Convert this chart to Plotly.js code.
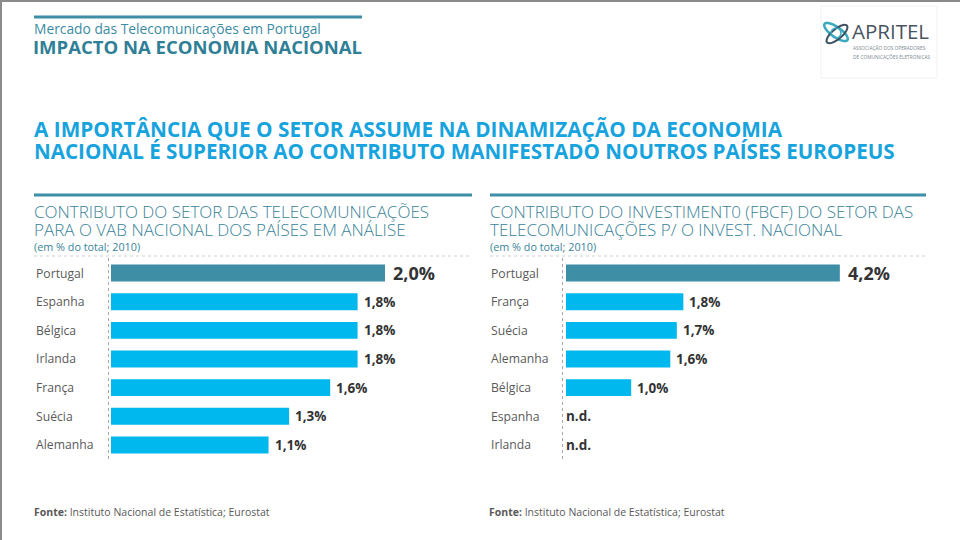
<!DOCTYPE html>
<html>
<head>
<meta charset="utf-8">
<script src="https://cdn.plot.ly/plotly-3.0.1.min.js"></script>
<style>html,body{margin:0;padding:0;background:#fff;}#chart{width:960px;height:540px;}</style>
</head>
<body>
<div id="chart"></div>
<script>
// ---- data ----
const vabCountries = ["Portugal","Espanha","Bélgica","Irlanda","França","Suécia","Alemanha"];
const vabValues    = [2.0, 1.8, 1.8, 1.8, 1.6, 1.3, 1.15];
const vabLabels    = ["2,0%","1,8%","1,8%","1,8%","1,6%","1,3%","1,1%"];

const fbcfCountries = ["Portugal","França","Suécia","Alemanha","Bélgica","Espanha","Irlanda"];
const fbcfValues    = [4.2, 1.8, 1.7, 1.6, 1.0, null, null];
const fbcfLabels    = ["4,2%","1,8%","1,7%","1,6%","1,0%","n.d.","n.d."];

const W = 960, H = 540;
const px = x => x / W;
const py = y => 1 - y / H;

const TEAL = "#3e8ea6", CYAN = "#00b8ee", HEAD = "#3a8399", BLUE = "#17a3dd";
const FONT = "Open Sans, sans-serif";

const yTop = 258.7, yBot = 459.3;

const traces = [
  {type:"bar", orientation:"h", x: vabValues, y: vabCountries, xaxis:"x", yaxis:"y",
   marker:{color: vabCountries.map(c => c === "Portugal" ? TEAL : CYAN)}, hoverinfo:"skip"},
  {type:"bar", orientation:"h", x: fbcfValues, y: fbcfCountries, xaxis:"x2", yaxis:"y2",
   marker:{color: fbcfCountries.map(c => c === "Portugal" ? TEAL : CYAN)}, hoverinfo:"skip"}
];

const annotations = [];
const shapes = [];

function addText(text, x, y, size, color, opts) {
  opts = opts || {};
  annotations.push(Object.assign({
    text: text, xref:"paper", yref:"paper", x: px(x), y: py(y),
    xanchor:"left", yanchor:"middle", showarrow:false, borderpad:0,
    font:{family: FONT, size: size, color: color, weight: opts.weight || 400}
  }, opts.extra || {}));
}

// header
shapes.push({type:"line", xref:"paper", yref:"paper", x0:px(34), x1:px(362), y0:py(17), y1:py(17), line:{color:TEAL, width:3}});
addText("Mercado das Telecomunicações em Portugal", 33, 29, 13.8, "#3b8ba3");
addText("IMPACTO NA ECONOMIA NACIONAL", 32, 46.5, 18.5, "#2f7f96", {weight:700});

// main heading
addText("A IMPORTÂNCIA QUE O SETOR ASSUME NA DINAMIZAÇÃO DA ECONOMIA", 33, 129, 20.8, BLUE, {weight:700});
addText("NACIONAL É SUPERIOR AO CONTRIBUTO MANIFESTADO NOUTROS PAÍSES EUROPEUS", 33, 151, 20.6, BLUE, {weight:700});

// panel headers
function panelHeader(x0, x1, l1, l2) {
  shapes.push({type:"line", xref:"paper", yref:"paper", x0:px(x0), x1:px(x1), y0:py(195), y1:py(195), line:{color:TEAL, width:3}});
  addText(l1, x0 - 1, 211.5, 17, HEAD, {weight:300});
  addText(l2, x0 - 1, 229.5, 17, HEAD, {weight:300});
  addText("(em % do total; 2010)", x0 - 1, 246.5, 10.8, HEAD);
  shapes.push({type:"line", xref:"paper", yref:"paper", x0:px(x0), x1:px(x1), y0:py(256), y1:py(256), line:{color:"#d0d0d0", width:1, dash:"dot"}});
}
panelHeader(34, 472, "CONTRIBUTO DO SETOR DAS TELECOMUNICAÇÕES", "PARA O VAB NACIONAL DOS PAÍSES EM ANÁLISE");
panelHeader(490, 926, "CONTRIBUTO DO INVESTIMENT0 (FBCF) DO SETOR DAS", "TELECOMUNICAÇÕES P/ O INVEST. NACIONAL");

// category & value labels
function panelLabels(cats, vals, labels, xr, yr, labelX, axisX) {
  cats.forEach((c, i) => {
    annotations.push({text:c, xref:"paper", yref:yr, x:px(labelX), y:c, xanchor:"left", yanchor:"middle",
      showarrow:false, font:{family:FONT, size:12.2, color:"#5a5a5a"}});
    const isPT = c === "Portugal";
    const v = vals[i];
    annotations.push({text:labels[i], xref:xr, yref:yr, x: v == null ? 0 : v, y:c,
      xanchor:"left", yanchor:"middle", xshift: v == null ? -2 : (isPT ? 6 : 4), showarrow:false,
      font:{family:FONT, size: isPT ? 18 : 13.5, color:"#333333", weight:700}});
  });
  shapes.push({type:"line", xref:"paper", yref:"paper", x0:px(axisX), x1:px(axisX), y0:py(258), y1:py(461),
    line:{color:"#a8a8a8", width:1, dash:"dot"}});
}
panelLabels(vabCountries, vabValues, vabLabels, "x", "y", 34, 108.5);
panelLabels(fbcfCountries, fbcfValues, fbcfLabels, "x2", "y2", 489, 562.5);

// footer
addText("<b>Fonte:</b> Instituto Nacional de Estatística; Eurostat", 33, 512, 10.5, "#595959");
addText("<b>Fonte:</b> Instituto Nacional de Estatística; Eurostat", 488, 512, 10.5, "#595959");

// border
shapes.push({type:"line", xref:"paper", yref:"paper", x0:0, x1:1, y0:py(1), y1:py(1), line:{color:"#8a8a8a", width:2}});
shapes.push({type:"line", xref:"paper", yref:"paper", x0:px(1), x1:px(1), y0:0, y1:1, line:{color:"#8a8a8a", width:2}});

// logo
shapes.push({type:"rect", xref:"paper", yref:"paper", x0:px(821), x1:px(937), y0:py(6), y1:py(78), line:{color:"#f2f2f2", width:1}, fillcolor:"rgba(0,0,0,0)"});
function ellipsePath(cx, cy, a, b, rot) {
  const r = rot * Math.PI / 180; let d = "";
  for (let k = 0; k <= 40; k++) {
    const t = k / 40 * 2 * Math.PI;
    const ex = a * Math.cos(t), ey = b * Math.sin(t);
    const X = cx + ex * Math.cos(r) - ey * Math.sin(r);
    const Y = cy + ex * Math.sin(r) + ey * Math.cos(r);
    d += (k ? " L" : "M") + px(X).toFixed(5) + "," + py(Y).toFixed(5);
  }
  return d + " Z";
}
shapes.push({type:"path", xref:"paper", yref:"paper", path: ellipsePath(836, 32, 14, 5, 35), line:{color:"#3aa9bd", width:2.5}});
shapes.push({type:"path", xref:"paper", yref:"paper", path: ellipsePath(837, 34, 13, 5, -40), line:{color:"#3c4f5e", width:2}});
shapes.push({type:"circle", xref:"paper", yref:"paper", x0:px(831), x1:px(841), y0:py(28), y1:py(38), line:{color:"#3aa9bd", width:1.5}});
addText("APRITEL", 851, 31, 20.5, "#48545f");
addText("ASSOCIAÇÃO DOS OPERADORES", 852, 48, 4.8, "#7a8790");
addText("DE COMUNICAÇÕES ELETRÓNICAS", 852, 56, 4.8, "#7a8790");

const layout = {
  width: W, height: H, margin:{l:0, r:0, t:0, b:0}, paper_bgcolor:"#fff", plot_bgcolor:"rgba(0,0,0,0)",
  showlegend:false, bargap:0.41,
  xaxis:{domain:[px(111), px(471)], range:[0, 360/137], visible:false, fixedrange:true},
  yaxis:{domain:[py(yBot), py(yTop)], type:"category", categoryarray: vabCountries, range:[6.5, -0.5], visible:false, anchor:"x"},
  xaxis2:{domain:[px(566), px(926)], range:[0, 360/65.2], visible:false, anchor:"y2"},
  yaxis2:{domain:[py(yBot), py(yTop)], type:"category", categoryarray: fbcfCountries, range:[6.5, -0.5], visible:false, anchor:"x2"},
  annotations: annotations, shapes: shapes
};

Plotly.newPlot("chart", traces, layout, {staticPlot:true, displayModeBar:false});
</script>
</body>
</html>
